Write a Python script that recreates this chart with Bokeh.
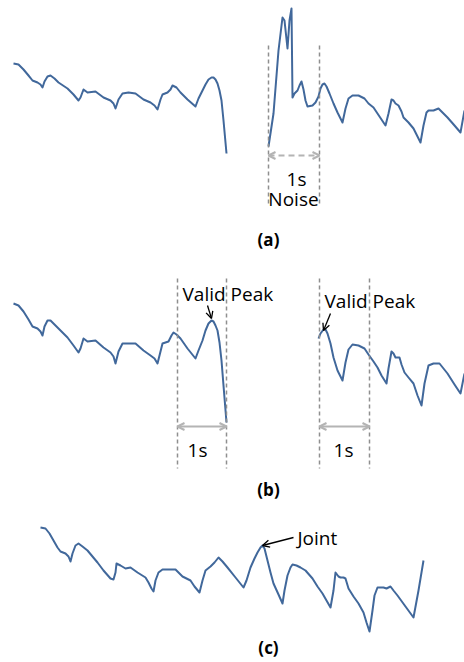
from bokeh.plotting import figure
from bokeh.models import Range1d, Label, Arrow, OpenHead
from bokeh.embed import file_html
from bokeh.resources import INLINE

# ---- traced signal (screen-like coordinates, y grows downward) ----
a1_x = [13, 18, 23, 28, 32, 37, 40, 42, 44, 47, 50, 54, 58, 67, 73, 78, 80, 83, 87, 95, 103, 110, 113, 115, 118, 122, 128, 135, 143, 150, 154, 157, 160, 162, 167, 170, 172, 176, 180, 187, 195, 198, 202, 205, 208, 211, 213, 215, 217, 219, 221, 223, 226]
a1_y = [63, 64, 69, 75, 80, 82, 84, 87, 81, 76, 75, 78, 82, 88, 94, 100, 97, 89, 92, 91, 97, 100, 103, 108, 99, 93, 92, 93, 99, 102, 105, 109, 99, 94, 92, 89, 85, 87, 92, 99, 106, 98, 90, 84, 79, 77, 77, 79, 83, 90, 100, 120, 153]
a2_x = [268, 273, 278, 282, 284, 287, 289, 291, 292, 294, 297, 299, 301, 303, 305, 307, 312, 315, 318, 320, 322, 324, 326, 329, 333, 337, 342, 345, 348, 352, 358, 364, 368, 373, 377, 381, 385, 388, 391, 393, 395, 398, 401, 403, 408, 413, 417, 420, 423, 426, 428, 433, 438, 442, 447, 454, 460, 464]
a2_y = [146, 113, 50, 17, 20, 48, 20, 8, 97, 93, 90, 85, 81, 89, 100, 106, 105, 102, 96, 88, 84, 83, 86, 93, 103, 112, 122, 108, 98, 95, 95, 98, 103, 107, 113, 119, 125, 113, 99, 100, 103, 105, 111, 117, 122, 128, 136, 142, 125, 112, 110, 110, 108, 112, 117, 125, 132, 110]

b1_x = [13, 18, 23, 28, 32, 37, 40, 42, 44, 47, 50, 54, 58, 67, 73, 78, 80, 83, 87, 95, 103, 110, 113, 115, 118, 122, 128, 135, 143, 150, 154, 157, 160, 162, 165, 168, 171, 173, 176, 180, 187, 195, 198, 202, 205, 208, 211, 213, 215, 217, 219, 221, 223, 226]
b1_y = [303, 305, 311, 319, 326, 328, 331, 335, 326, 320, 320, 324, 328, 337, 345, 352, 348, 338, 341, 340, 347, 352, 356, 363, 351, 343, 343, 343, 350, 355, 358, 363, 351, 343, 342, 341, 335, 332, 334, 338, 348, 358, 350, 340, 330, 323, 320, 321, 325, 330, 342, 360, 385, 422]
b2_x = [318, 320, 323, 325, 327, 330, 333, 337, 342, 345, 348, 352, 358, 364, 368, 373, 377, 381, 386, 388, 391, 393, 395, 399, 401, 404, 408, 413, 417, 421, 424, 428, 433, 439, 443, 447, 454, 460, 464]
b2_y = [338, 333, 329, 329, 333, 343, 357, 370, 380, 362, 349, 344, 345, 348, 354, 361, 367, 375, 383, 368, 351, 353, 357, 357, 364, 372, 377, 383, 395, 405, 383, 365, 363, 363, 368, 373, 384, 393, 373]

c_x = [40, 45, 49, 53, 57, 60, 65, 68, 70, 72, 75, 78, 82, 87, 92, 97, 103, 110, 113, 115, 116, 120, 125, 130, 137, 145, 148, 151, 153, 155, 158, 162, 168, 175, 182, 190, 194, 199, 202, 205, 210, 214, 218, 222, 227, 235, 243, 246, 250, 254, 257, 260, 262, 264, 267, 270, 273, 278, 282, 284, 287, 290, 292, 296, 300, 305, 312, 317, 322, 326, 330, 333, 335, 338, 340, 343, 345, 348, 353, 358, 363, 366, 369, 372, 374, 377, 383, 386, 390, 393, 397, 405, 413, 418, 423]
c_y = [527, 528, 533, 540, 547, 551, 553, 556, 561, 553, 545, 543, 546, 550, 556, 562, 570, 578, 579, 572, 563, 565, 568, 567, 572, 577, 582, 588, 591, 580, 572, 569, 569, 569, 576, 580, 586, 592, 580, 570, 566, 562, 557, 561, 567, 577, 587, 580, 567, 558, 552, 547, 545, 548, 560, 572, 583, 594, 603, 590, 575, 567, 564, 565, 567, 570, 578, 586, 593, 600, 607, 590, 572, 576, 577, 577, 578, 588, 596, 603, 612, 622, 631, 610, 595, 587, 587, 588, 586, 590, 595, 606, 617, 590, 560]

# window markers (x positions) and labels
a_win = [268, 319]
b_win_left = [177, 226]
b_win_right = [319, 369]
labels_text = ["1s", "Noise", "Valid Peak", "Joint", "(a)", "(b)", "(c)"]

BLUE = "#41689b"
GRAY = "#8f8f8f"
LGRAY = "#b4b4b4"
FONT = "Open Sans"

p = figure(width=464, height=662, output_backend="svg", toolbar_location=None,
           x_range=Range1d(0, 464), y_range=Range1d(662, 0), min_border=0)
p.axis.visible = False
p.grid.visible = False
p.outline_line_color = None
p.background_fill_color = "white"

for xs, ys in [(a1_x, a1_y), (a2_x, a2_y), (b1_x, b1_y), (b2_x, b2_y), (c_x, c_y)]:
    p.line(xs, ys, line_color=BLUE, line_width=2, line_join="round")

# dashed vertical window lines
for x in a_win:
    p.segment(x0=[x], y0=[45], x1=[x], y1=[205], line_color=GRAY, line_width=1.5, line_dash="4 3")
for x in b_win_left + b_win_right:
    p.segment(x0=[x], y0=[278], x1=[x], y1=[468], line_color=GRAY, line_width=1.5, line_dash="4 3")

# 1s arrows
p.add_layout(Arrow(x_start=a_win[0], y_start=155, x_end=a_win[1], y_end=155,
                   line_color=LGRAY, line_width=2, line_dash="6 4",
                   start=OpenHead(size=7, line_color=LGRAY, line_width=2),
                   end=OpenHead(size=7, line_color=LGRAY, line_width=2)))
for w in (b_win_left, b_win_right):
    p.add_layout(Arrow(x_start=w[0], y_start=426, x_end=w[1], y_end=426,
                       line_color=LGRAY, line_width=2,
                       start=OpenHead(size=7, line_color=LGRAY, line_width=2),
                       end=OpenHead(size=7, line_color=LGRAY, line_width=2)))

def lab(x, y, t, align="center", bold=False, size="19px"):
    p.add_layout(Label(x=x, y=y, text=t, text_align=align, text_baseline="middle",
                       text_font=FONT, text_font_size=size, text_color="black",
                       text_font_style="bold" if bold else "normal"))

lab(296, 178, labels_text[0])
lab(293, 198, labels_text[1])
lab(197, 449, labels_text[0])
lab(343, 449, labels_text[0])
lab(182, 293, labels_text[2], align="left")
lab(324, 300, labels_text[2], align="left")
lab(297, 537, labels_text[3], align="left")
lab(268, 239, labels_text[4], bold=True, size="17px")
lab(268, 489, labels_text[5], bold=True, size="17px")
lab(268, 647, labels_text[6], bold=True, size="17px")

# pointer arrows
for (xs, ys, xe, ye) in [(207, 305, 211, 318), (330, 313, 323, 330), (293, 537, 262, 545)]:
    p.add_layout(Arrow(x_start=xs, y_start=ys, x_end=xe, y_end=ye, line_color="black", line_width=1.3,
                       end=OpenHead(size=7, line_color="black", line_width=1.3)))

open("out.html", "w").write(file_html(p, INLINE))
